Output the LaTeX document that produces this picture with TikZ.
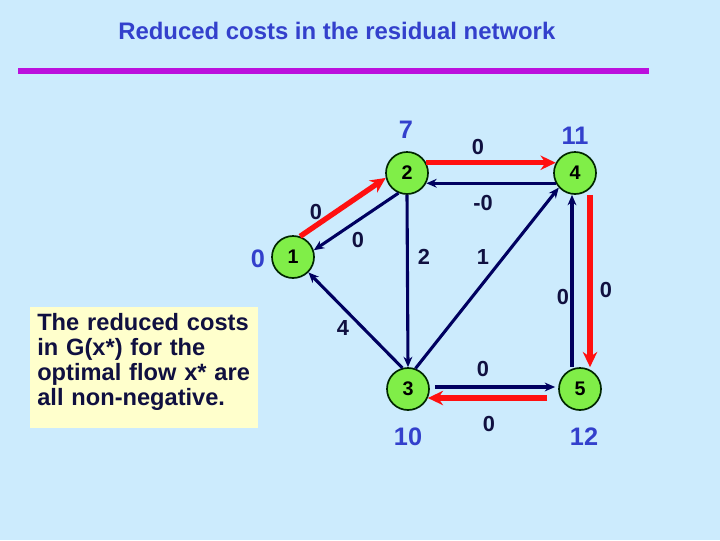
\documentclass[tikz,border=0pt]{standalone}
\usepackage{fontspec}
\setmainfont{Liberation Sans}
\usetikzlibrary{calc,arrows.meta}
\definecolor{figBg}{HTML}{CCEBFD}
\definecolor{figNavy}{HTML}{000060}
\definecolor{figRed}{HTML}{FF1010}
\definecolor{figGreen}{HTML}{80EE48}
\definecolor{figBlue}{HTML}{3340CC}
\definecolor{figMagenta}{HTML}{BB10DD}
\definecolor{figNote}{HTML}{FFFFCC}
\definecolor{figInk}{HTML}{101040}

\begin{document}
\begin{tikzpicture}[x=0.025cm, y=-0.025cm,
  every node/.style={font=\bfseries\fontsize{15.5}{18}\selectfont},
  vtx/.style={circle, draw=black!85!green, line width=1.2pt, fill=figGreen,
              minimum size=1.05cm, inner sep=0pt,
              font=\bfseries\fontsize{14}{16}\selectfont},
  flow/.style={-{Stealth[length=2.6mm, width=2.2mm]}, figNavy, line width=2.2pt},
  resid/.style={-{Stealth[length=3.8mm, width=3.6mm]}, figRed, line width=3.8pt},
  cost/.style={text=figInk, inner sep=0pt},
  pot/.style={text=figBlue, inner sep=0pt, font=\bfseries\fontsize{18}{20}\selectfont},
  note/.style={fill=figNote, text=figInk, anchor=north west, align=left,
               inner xsep=5pt, inner ysep=4pt, text width=5.35cm,
               minimum height=3cm, font=\bfseries\fontsize{16.8}{18}\selectfont},
]

% Background and heading
\fill[figBg] (0,0) rectangle (720,540);
\useasboundingbox (0,0) rectangle (720,540);
\node[text=figBlue, anchor=west, inner sep=0pt, font=\bfseries\fontsize{17}{19}\selectfont]
  (title) at (118,31) {Reduced costs in the residual network};
\draw[figMagenta, line width=3.6pt] (18,71) -- (649,71);

% Nodes
\node[vtx] (n1) at (293,257) {1};
\node[vtx] (n2) at (407,173) {2};
\node[vtx] (n4) at (575,173) {4};
\node[vtx] (n3) at (408,389) {3};
\node[vtx] (n5) at (580,389) {5};

% Potentials
\node[pot] (p1) at (258,259) {0};
\node[pot] (p2) at (406,130) {7};
\node[pot] (p4) at (575,136) {11};
\node[pot] (p3) at (408,437) {10};
\node[pot] (p5) at (584,437) {12};

% Arcs with positive residual capacity
\draw[resid] (n1.71) -- (n2.193);
\draw[flow] (n2.247) -- (n1.18);
\draw[resid] (n2.28) -- (n4.152);
\draw[flow] (n4.208) -- (n2.-28);
\draw[flow] (n2.south) -- (n3.north);
\draw[flow] (n3.70) -- (n4.222);
\draw[flow] (n3.105) -- (n1.-45);
\draw[flow] ($(n5.north)+(-8,0)$) -- ($(n4.south)+(-3,0)$);
\draw[resid] ($(n4.south)+(15,0)$) -- ($(n5.north)+(10,0)$);
\draw[flow] ($(n3.east)+(5,-2)$) -- ($(n5.west)+(-3,-2)$);
\draw[resid] ($(n5.west)+(-11,9)$) -- ($(n3.east)+(-2,9)$);

% Reduced costs
\node[cost] (c12) at (316,212) {0};
\node[cost] (c21) at (358,240) {0};
\node[cost] (c24) at (478,147) {0};
\node[cost] (c42) at (483,203) {-0};
\node[cost] (c23) at (424,257) {2};
\node[cost] (c34) at (483,257) {1};
\node[cost] (c31) at (343,328) {4};
\node[cost] (c54) at (563,297) {0};
\node[cost] (c45) at (606,290) {0};
\node[cost] (c35) at (483,369) {0};
\node[cost] (c53) at (489,424) {0};

% Remark
\node[note] (remark) at (30,307)
  {The reduced costs\\in G(x*) for the\\optimal flow x* are\\all non-negative.\par\vspace*{8pt}};

\end{tikzpicture}
\end{document}
